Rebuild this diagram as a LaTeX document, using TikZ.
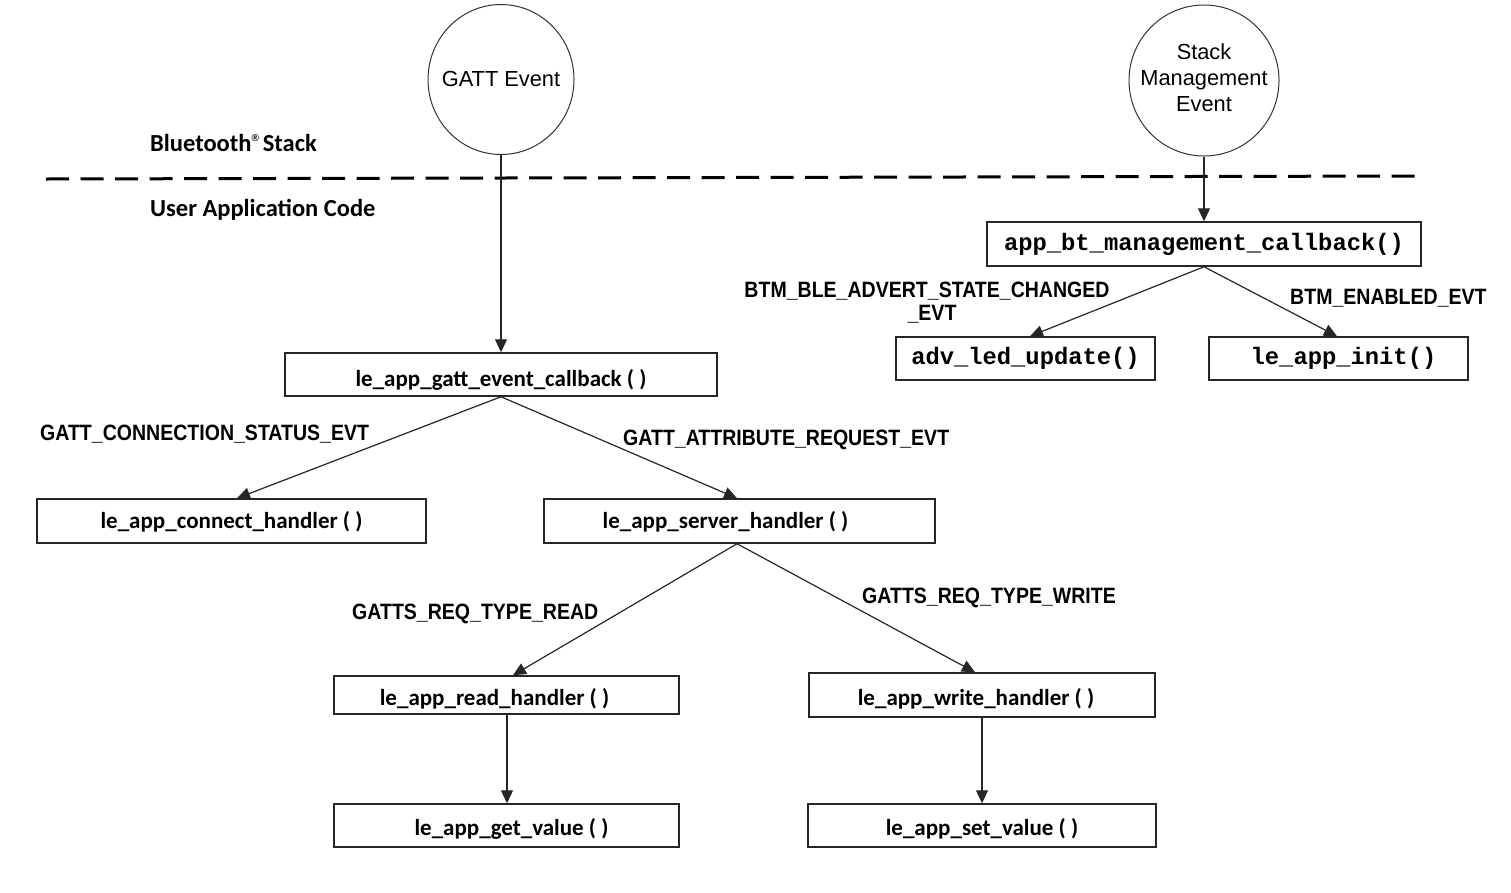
\documentclass[tikz,border=0pt]{standalone}
\usepackage{fontspec}
\setmainfont{Liberation Sans}
\newfontfamily\boxfont{Carlito}
\newfontfamily\lblfont[FakeStretch=0.88]{Liberation Sans}
\newfontfamily\monofont{Liberation Mono}
\usetikzlibrary{arrows.meta,shapes.geometric}
\tikzset{
  fnbox/.style={draw=black!85, line width=1.5pt, inner sep=0pt, fill=white,
    text depth=2pt, text height=20pt,
    font=\boxfont\bfseries\fontsize{23}{27}\selectfont},
  monobox/.style={draw=black!85, line width=1.5pt, inner sep=0pt, fill=white,
    font=\monofont\bfseries\fontsize{23.8}{27}\selectfont},
  evt/.style={draw=black!80, line width=1pt, ellipse, inner sep=0pt},
  evttext/.style={inner sep=0pt, align=center, font=\fontsize{21.8}{26}\selectfont},
  lbl/.style={inner sep=0pt, font=\lblfont\bfseries\fontsize{22.2}{23}\selectfont},
  layer/.style={inner sep=0pt, font=\boxfont\bfseries\fontsize{24.5}{26}\selectfont},
  arr/.style={draw=black!85, line width=1.2pt, -{Triangle[length=13pt,width=12pt]}},
}
\begin{document}
\begin{tikzpicture}[x=1pt,y=-1pt]
\useasboundingbox (0,0) rectangle (1511,892);

% event circles
\node[evt, minimum width=146pt, minimum height=150pt] (gattev) at (501,79.5) {};
\node[evttext] (gattevtxt) at ([yshift=1pt]gattev.center) {GATT Event};
\node[evt, minimum width=150pt, minimum height=151pt] (stackev) at (1204,80.5) {};
\node[evttext] (stackevtxt) at ([yshift=2.5pt]stackev.center) {Stack\\Management\\Event};

% layer separator
\draw[black, line width=3pt, dash pattern=on 23pt off 11.5pt] (46,179) -- (1418,176);
\node[layer, anchor=base west] (bt) at (150,151) {Bluetooth\raisebox{10pt}{\rmfamily\bfseries\fontsize{10}{10}\selectfont\textregistered}\hspace{4pt}Stack};
\node[layer, anchor=base west] (uac) at (150,216) {User Application Code};

% boxes
\node[fnbox, text height=25.4pt, minimum width=432pt, minimum height=43pt] (gatt) at (501,374.5) {le\_app\_gatt\_event\_callback ( )};
\node[fnbox, text height=16pt, minimum width=389pt, minimum height=44pt] (conn) at (231.5,521) {le\_app\_connect\_handler ( )};
\node[fnbox, text height=16pt, minimum width=391pt, minimum height=44pt] (server) at (739.5,521) {\hspace*{-28pt}le\_app\_server\_handler ( )};
\node[fnbox, text height=22pt, minimum width=345pt, minimum height=38pt] (read) at (506.5,695) {\hspace*{-24pt}le\_app\_read\_handler ( )};
\node[fnbox, text height=22pt, minimum width=346pt, minimum height=44pt] (write) at (982,695) {\hspace*{-12pt}le\_app\_write\_handler ( )};
\node[fnbox, text height=21pt, minimum width=345pt, minimum height=43pt] (get) at (506.5,825.5) {\hspace*{10pt}le\_app\_get\_value ( )};
\node[fnbox, text height=21pt, minimum width=348pt, minimum height=43pt] (set) at (982,825.5) {le\_app\_set\_value ( )};

\node[monobox, minimum width=434pt, minimum height=44pt] (mgmt) at (1204,244) {app\_bt\_management\_callback()};
\node[monobox, minimum width=259pt, minimum height=43pt] (adv) at (1025.5,358.5) {adv\_led\_update()};
\node[monobox, minimum width=259pt, minimum height=43pt] (init) at (1338.5,358.5) {\hspace*{10pt}le\_app\_init()};

% connectors
\draw[arr] (gattev.south) -- (gatt.north);
\draw[arr] (stackev.south) -- (mgmt.north);
\draw[arr] (mgmt.south) -- ([xshift=4.5pt]adv.north);
\draw[arr] (mgmt.south) -- ([xshift=-1.5pt]init.north);
\draw[arr] (gatt.south) -- ([xshift=5.5pt]conn.north);
\draw[arr] (gatt.south) -- ([xshift=-2.5pt]server.north);
\draw[arr] ([xshift=-2.5pt]server.south) -- ([xshift=6.5pt]read.north);
\draw[arr] ([xshift=-2.5pt]server.south) -- ([xshift=-7pt]write.north);
\draw[arr] ([xshift=0.5pt]read.south) -- ([xshift=0.5pt]get.north);
\draw[arr] (write.south) -- (set.north);

% labels
\node[lbl, align=center, anchor=north] (lblAdv) at (927,282) {BTM\_BLE\_ADVERT\_STATE\_CHANGED\\\hspace*{10pt}\_EVT};
\node[lbl, anchor=base west] (lblEn) at (1290,304) {BTM\_ENABLED\_EVT};
\node[lbl, anchor=base west] (lblConn) at (40,440) {GATT\_CONNECTION\_STATUS\_EVT};
\node[lbl, anchor=base west] (lblAttr) at (623,445) {GATT\_ATTRIBUTE\_REQUEST\_EVT};
\node[lbl, anchor=base west] (lblRead) at (352,619) {GATTS\_REQ\_TYPE\_READ};
\node[lbl, anchor=base west] (lblWrite) at (862,603) {GATTS\_REQ\_TYPE\_WRITE};
\end{tikzpicture}
\end{document}
